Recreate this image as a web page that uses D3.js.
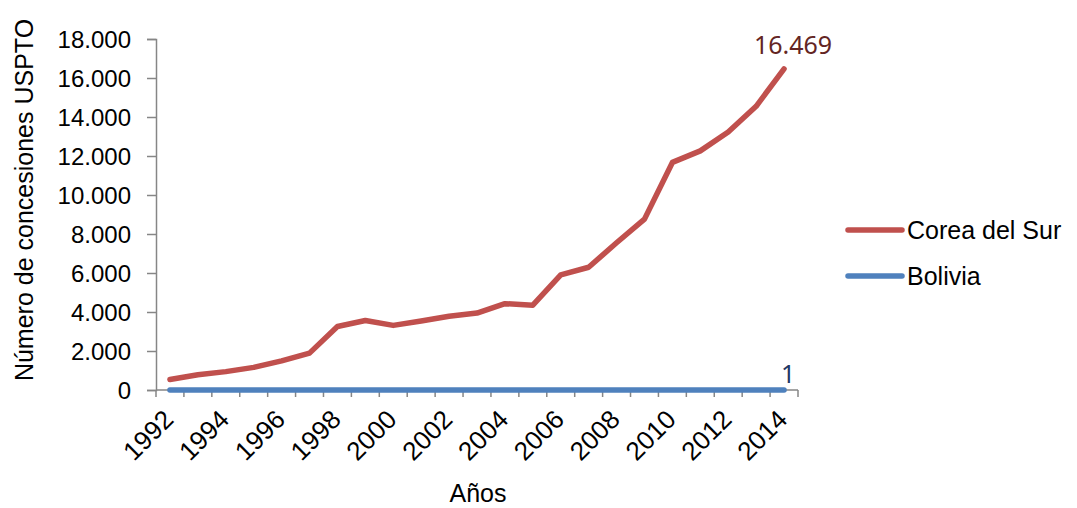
<!DOCTYPE html>
<html>
<head>
<meta charset="utf-8">
<script src="https://cdn.jsdelivr.net/npm/d3@7"></script>
<style>
  body { margin: 0; background: #fff; }
  text { font-family: "Liberation Sans", Arial, sans-serif; }
</style>
</head>
<body>
<svg width="1077" height="508"></svg>
<script>
// data
var years = d3.range(1992, 2015);
var corea = [538, 779, 943, 1161, 1493, 1891, 3259, 3562, 3314, 3538, 3786, 3944,
             4428, 4352, 5908, 6295, 7549, 8762, 11671, 12262, 13233, 14548, 16469];
var bolivia = [0, 1, 0, 1, 0, 1, 1, 0, 1, 2, 0, 1, 1, 0, 0, 1, 0, 1, 1, 0, 2, 1, 1];
var seriesNames = ["Corea del Sur", "Bolivia"];
var yTicks = d3.range(0, 18001, 2000);

var svg = d3.select("svg"),
    plotLeft = 156, plotRight = 798, plotTop = 39, plotBottom = 390;

var es = d3.formatLocale({decimal: ",", thousands: ".", grouping: [3], currency: ["", ""]});
var fmt = es.format(",");

var x = d3.scaleBand().domain(years).range([plotLeft, plotRight]).padding(0);
var y = d3.scaleLinear().domain([0, 18000]).range([plotBottom, plotTop]);
var cx = function(d) { return x(d) + x.bandwidth() / 2; };

// y axis
var yAxis = svg.append("g")
    .attr("transform", "translate(" + plotLeft + ",0)")
    .call(d3.axisLeft(y).tickValues(yTicks).tickSize(9).tickPadding(16).tickFormat(fmt));
yAxis.select(".domain").attr("stroke", "#868686").attr("stroke-width", 1.5);
yAxis.selectAll(".tick line").attr("stroke", "#868686").attr("stroke-width", 1.5);
yAxis.selectAll(".tick text")
    .style("font-size", "24px")
    .attr("fill", "#000")
    .attr("dy", "0.36em");

// x axis: ticks on category boundaries
svg.append("line")
    .attr("x1", plotLeft).attr("x2", plotRight)
    .attr("y1", plotBottom).attr("y2", plotBottom)
    .attr("stroke", "#868686").attr("stroke-width", 1.5);
svg.selectAll(".xtick")
    .data(years.concat([2015]))
    .enter().append("line")
    .attr("class", "xtick")
    .attr("x1", function(d) { return d == 2015 ? plotRight : x(d); })
    .attr("x2", function(d) { return d == 2015 ? plotRight : x(d); })
    .attr("y1", plotBottom).attr("y2", plotBottom + 7)
    .attr("stroke", "#868686").attr("stroke-width", 1.5);

svg.selectAll(".xlabel")
    .data(years.filter(function(d) { return d % 2 == 0; }))
    .enter().append("text")
    .attr("class", "xlabel")
    .attr("transform", function(d) { return "translate(" + (cx(d) + 5) + ",421) rotate(-45)"; })
    .style("text-anchor", "end")
    .style("font-size", "26px")
    .text(function(d) { return d; });

// axis titles
svg.append("text")
    .attr("transform", "translate(33,200) rotate(-90)")
    .style("text-anchor", "middle")
    .style("font-size", "25px")
    .text("Número de concesiones USPTO");

svg.append("text")
    .attr("x", 478).attr("y", 502)
    .style("text-anchor", "middle")
    .style("font-size", "25px")
    .text("Años");

// lines
var line = d3.line()
    .x(function(d, i) { return cx(years[i]); })
    .y(function(d) { return y(d); });

svg.append("path")
    .datum(bolivia)
    .attr("d", line)
    .attr("fill", "none")
    .attr("stroke", "#4f81bd")
    .attr("stroke-width", 5.5)
    .attr("stroke-linecap", "round")
    .attr("stroke-linejoin", "round");

svg.append("path")
    .datum(corea)
    .attr("d", line)
    .attr("fill", "none")
    .attr("stroke", "#c0504d")
    .attr("stroke-width", 5.5)
    .attr("stroke-linecap", "round")
    .attr("stroke-linejoin", "round");

// end labels
var last = years.length - 1;
svg.append("text")
    .attr("x", cx(years[last]) + 9)
    .attr("y", y(corea[last]) - 15)
    .style("text-anchor", "middle")
    .style("font-family", "'Noto Sans', sans-serif")
    .style("font-size", "25px")
    .attr("fill", "#632523")
    .text(fmt(corea[last]));

svg.append("text")
    .attr("x", cx(years[last]) + 4)
    .attr("y", y(bolivia[last]) - 7)
    .style("text-anchor", "middle")
    .style("font-family", "'Noto Sans', sans-serif")
    .style("font-size", "25px")
    .attr("fill", "#1f3864")
    .text(fmt(bolivia[last]));

// legend
var legend = svg.selectAll(".legend")
    .data(seriesNames)
    .enter().append("g")
    .attr("class", "legend")
    .attr("transform", function(d, i) { return "translate(848," + (230 + i * 46) + ")"; });
legend.append("line")
    .attr("x1", 0).attr("x2", 54)
    .attr("stroke", function(d, i) { return i == 0 ? "#c0504d" : "#4f81bd"; })
    .attr("stroke-width", 5.5)
    .attr("stroke-linecap", "round");
legend.append("text")
    .attr("x", 59)
    .attr("dy", "0.35em")
    .style("font-size", "25px")
    .text(function(d) { return d; });
</script>
</body>
</html>
